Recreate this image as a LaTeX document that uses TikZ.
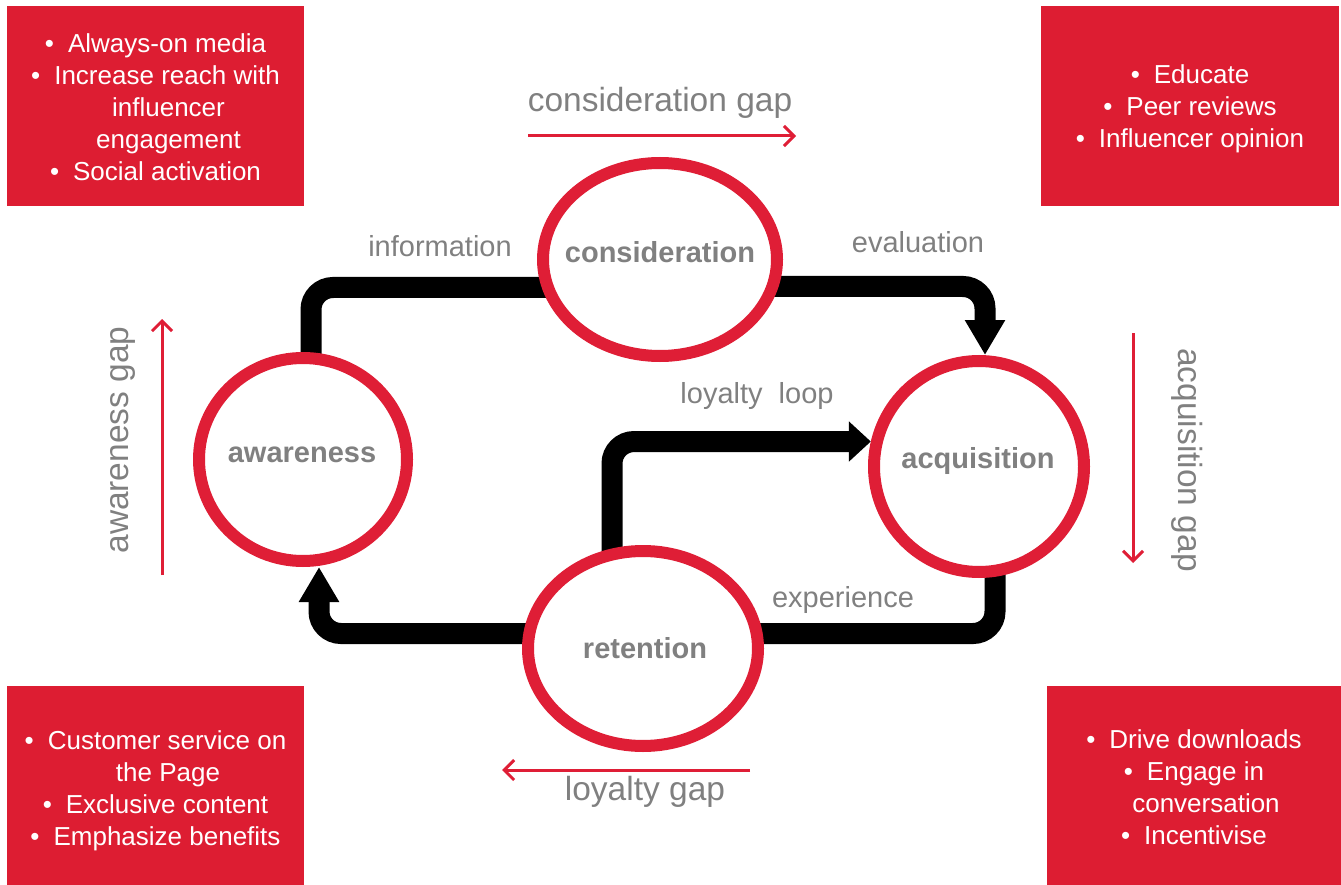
\documentclass[tikz,border=0pt]{standalone}
\usepackage{fontspec}
\setmainfont{Liberation Sans}
\usetikzlibrary{shapes.geometric,arrows.meta,backgrounds}
\definecolor{boxred}{RGB}{221,29,50}
\definecolor{ringred}{RGB}{223,30,54}
\definecolor{txtgray}{RGB}{128,128,128}
\newcommand{\bul}{\textbullet\hspace{14pt}}
\begin{document}
\begin{tikzpicture}[x=1pt,y=-1pt,
  stage/.style={ellipse,draw=ringred,line width=12pt,fill=white,inner sep=0pt},
  stagetext/.style={text=txtgray,font=\fontsize{29}{32}\selectfont\bfseries,inner sep=0pt},
  edgelabel/.style={text=txtgray,font=\fontsize{29}{32}\selectfont,inner sep=0pt},
  gaplabel/.style={text=txtgray,font=\fontsize{33.5}{38}\selectfont,inner sep=0pt},
  gaparrow/.style={draw=ringred,line width=3pt,-{Straight Barb[length=10pt,width=20pt]}},
  conn/.style={draw=black,line width=21pt,rounded corners=22pt},
  connarrow/.style={conn,-{Triangle[length=35pt,width=38pt]}},
  shortarrow/.style={conn,-{Triangle[length=22pt,width=39pt]}},
  infobox/.style={fill=boxred,inner sep=0pt},
  boxtext/.style={inner sep=0pt,text=white,align=center,font=\fontsize{26}{32}\selectfont},
]
\useasboundingbox (0,0) rectangle (1341,885);

% info boxes
\node[infobox,minimum width=297pt,minimum height=200pt] (tl) at (155.5,106) {};
\node[infobox,minimum width=298pt,minimum height=200pt] (tr) at (1190,106) {};
\node[infobox,minimum width=297pt,minimum height=199pt] (bl) at (155.5,785.5) {};
\node[infobox,minimum width=294pt,minimum height=199pt] (br) at (1194,785.5) {};

\node[boxtext] (tlT) at ([yshift=-1.5pt]tl.center)
  {\bul Always-on media\\ \bul Increase reach with\\ \hspace*{26pt}influencer\\ \hspace*{26pt}engagement\\ \bul Social activation};
\node[boxtext] (trT) at ([yshift=-3pt]tr.center)
  {\bul Educate\\ \bul Peer reviews\\ \bul Influencer opinion};
\node[boxtext] (blT) at ([yshift=-5pt]bl.center)
  {\bul Customer service on\\ \hspace*{25pt}the Page\\ \bul Exclusive content\\ \bul Emphasize benefits};
\node[boxtext] (brT) at ([yshift=-2pt]br.center)
  {\bul Drive downloads\\ \bul Engage in\\ \hspace*{24pt}conversation\\ \bul Incentivise};

% stages
\node[stage,minimum width=234pt,minimum height=193pt] (cons) at (660,259.5) {};
\node[stage,minimum width=208pt,minimum height=203pt] (aw) at (303,459.5) {};
\node[stage,minimum width=210pt,minimum height=211pt] (acq) at (979,466.5) {};
\node[stage,minimum width=230pt,minimum height=195pt] (ret) at (643,648.5) {};

\node[stagetext] (consT) at (660,252) {consideration};
\node[stagetext] (awT) at (302,455) {awareness};
\node[stagetext] (acqT) at (978,461) {acquisition};
\node[stagetext] (retT) at (645,648) {retention};

% connectors behind the rings
\begin{pgfonlayer}{background}
\draw[conn] ([xshift=8pt]aw.center) |- ([yshift=-28pt]cons.center);
\draw[connarrow] ([yshift=-27pt]cons.center) -| ([xshift=6pt]acq.north);
\draw[shortarrow] ([xshift=-31pt]ret.center) |- (acq.167.5);
\draw[conn] ([xshift=16pt]acq.center) |- ([yshift=15pt]ret.center);
\draw[connarrow] ([yshift=15pt]ret.center) -| ([xshift=16pt]aw.south);
\end{pgfonlayer}

% edge labels
\node[edgelabel] (info) at (440,246) {information};
\node[edgelabel] (eval) at (918,242) {evaluation};
\node[edgelabel] (loop) at (757,396) {loyalty\ \ loop};
\node[edgelabel] (exp) at (843,600) {experience};

% gaps
\node[gaplabel] (consgap) at (660,103) {consideration gap};
\coordinate (cg1) at (528,136);
\coordinate (cg2) at (796,136);
\draw[gaparrow] (cg1) -- (cg2);

\node[gaplabel] (loygap) at (645,792) {loyalty gap};
\coordinate (lg1) at (750,770);
\coordinate (lg2) at (502,770);
\draw[gaparrow] (lg1) -- (lg2);

\node[gaplabel,rotate=90] (awgap) at (123,440) {awareness gap};
\coordinate (ag1) at (162,575);
\coordinate (ag2) at (162,319);
\draw[gaparrow] (ag1) -- (ag2);

\node[gaplabel,rotate=-90] (acqgap) at (1187,460) {acquisition gap};
\coordinate (qg1) at (1133,333);
\coordinate (qg2) at (1133,563);
\draw[gaparrow] (qg1) -- (qg2);
\end{tikzpicture}
\end{document}
